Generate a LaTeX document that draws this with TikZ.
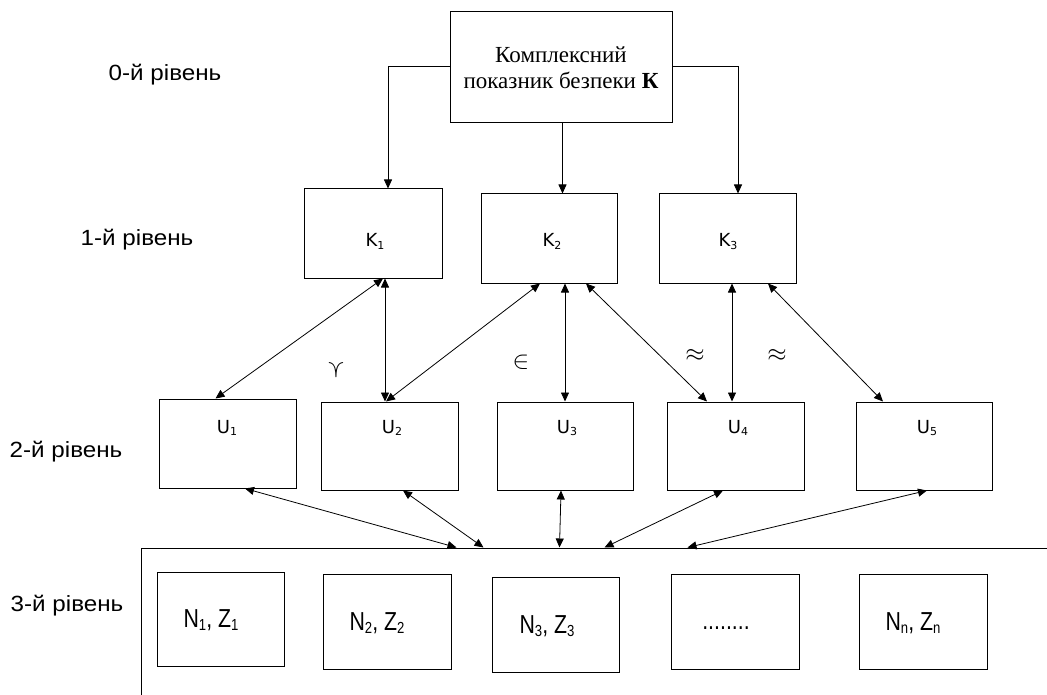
\documentclass[tikz,border=0pt]{standalone}
\usepackage{fontspec}
\setmainfont{Liberation Serif}
\newfontfamily\arialf[FakeStretch=1.1]{Liberation Sans}
\newfontfamily\arialn[FakeStretch=0.82]{Liberation Sans}
\newfontfamily\dvs{DejaVu Sans}
\usetikzlibrary{arrows.meta,calc}
\newcommand\ksub[1]{\raisebox{-2.5pt}{\fontsize{11}{12}\selectfont #1}}
\newcommand\nsub[1]{\raisebox{-3pt}{\fontsize{16}{18}\selectfont #1}}
\tikzset{
  box/.style={draw, line width=1pt, inner sep=0pt, rectangle},
  klab/.style={anchor=base, inner sep=0pt, font=\dvs\fontsize{18}{20}\selectfont},
  nlab/.style={anchor=base, inner sep=0pt, font=\arialn\fontsize{26}{30}\selectfont},
  lvl/.style={anchor=base, inner sep=0pt, font=\arialf\fontsize{22}{26}\selectfont},
  sym/.style={inner sep=0pt, font=\fontsize{24}{28}\selectfont},
  tip/.tip={Triangle[length=9pt,width=8pt]},
  conn/.style={line width=0.8pt, -tip},
  dconn/.style={line width=0.8pt, tip-tip},
}
\begin{document}
\begin{tikzpicture}[x=1pt,y=-1pt]
\useasboundingbox (0,0) rectangle (1047,695);
\clip (0,0) rectangle (1047,695);
\fill[white] (0,0) rectangle (1047,695);

% level labels
\node[lvl] (l0) at (165,81) {0-й рівень};
\node[lvl] (l1) at (137,246) {1-й рівень};
\node[lvl] (l2) at (66,457) {2-й рівень};
\node[lvl] (l3) at (67,611) {3-й рівень};

% level 0
\node[box, minimum width=222pt, minimum height=111pt, align=center,
      font=\fontsize{23}{26}\selectfont] (T) at (561,67.5)
      {Комплексний\\показник безпеки \textbf{К}};

% level 1
\node[box, minimum width=138pt, minimum height=89pt] (K1) at (373,233.5) {};
\node[box, minimum width=136pt, minimum height=89pt] (K2) at (549,238.5) {};
\node[box, minimum width=137pt, minimum height=89pt] (K3) at (727.5,238.5) {};
\node[klab] (K1t) at (375,247) {K\ksub{1}};
\node[klab] (K2t) at (552,247) {K\ksub{2}};
\node[klab] (K3t) at (728,247) {K\ksub{3}};

% level 2
\node[box, minimum width=137pt, minimum height=89pt] (U1) at (227.5,443.5) {};
\node[box, minimum width=137pt, minimum height=88pt] (U2) at (389.5,446) {};
\node[box, minimum width=136pt, minimum height=88pt] (U3) at (565,446) {};
\node[box, minimum width=137pt, minimum height=88pt] (U4) at (735.5,446) {};
\node[box, minimum width=136pt, minimum height=88pt] (U5) at (924,446) {};
\node[klab] (U1t) at (227,433) {U\ksub{1}};
\node[klab] (U2t) at (392,433) {U\ksub{2}};
\node[klab] (U3t) at (567,433) {U\ksub{3}};
\node[klab] (U4t) at (738,433) {U\ksub{4}};
\node[klab] (U5t) at (927,433) {U\ksub{5}};

% level 3 frame
\node[box, minimum width=959pt, minimum height=212pt] (L3) at (620.5,654) {};
\node[box, minimum width=127pt, minimum height=94pt] (N1) at (220.5,619) {};
\node[box, minimum width=128pt, minimum height=95pt] (N2) at (387,621.5) {};
\node[box, minimum width=127pt, minimum height=95pt] (N3) at (555.5,624.5) {};
\node[box, minimum width=128pt, minimum height=95pt] (N4) at (735,621.5) {};
\node[box, minimum width=128pt, minimum height=95pt] (N5) at (923,621.5) {};
\node[nlab] (N1t) at (211,627) {N\nsub{1}, Z\nsub{1}};
\node[nlab] (N2t) at (377,630) {N\nsub{2}, Z\nsub{2}};
\node[nlab] (N3t) at (547,633) {N\nsub{3}, Z\nsub{3}};
\node[nlab] (N4t) at (726,629) {........};
\node[nlab] (N5t) at (913,630) {N\nsub{n}, Z\nsub{n}};

% relation symbols
\node[sym, rotate=-90] (s1) at (336,370) {$\succ$};
\node[sym] (s2) at (521,362) {$\in$};
\node[sym] (s3) at (695,355) {$\approx$};
\node[sym] (s4) at (777,355) {$\approx$};

% level 0 -> level 1
\draw[conn] ([yshift=1.5pt]T.west) -| ([xshift=15pt]K1.north);
\draw[conn] ([yshift=1.5pt]T.east) -| ([xshift=10.5pt]K3.north);
\draw[conn] ([xshift=1.5pt]T.south) -- ([xshift=1.5pt]T.south |- K2.north);

% level 1 <-> level 2
\draw[dconn] ([xshift=10pt]K1.south) -- ([xshift=-12pt]U1.north);
\draw[dconn] ([xshift=12pt]K1.south) -- ([xshift=-4.5pt]U2.north);
\draw[dconn] ([xshift=-9pt]K2.south) -- ([xshift=-3.5pt]U2.north);
\draw[dconn] ([xshift=16pt]K2.south) -- (U3.north);
\draw[dconn] ([xshift=37pt]K2.south) -- ([xshift=-28.5pt]U4.north);
\draw[dconn] ([xshift=4.5pt]K3.south) -- ([xshift=-3.5pt]U4.north);
\draw[dconn] ([xshift=40.5pt]K3.south) -- ([xshift=-41pt]U5.north);

% level 2 <-> level 3
\coordinate (b1) at ($(L3.north west)+(316,0)$);
\coordinate (b2) at ($(L3.north west)+(343,0)$);
\coordinate (b3) at ($(L3.north west)+(419,0)$);
\coordinate (b4) at ($(L3.north west)+(464,0)$);
\coordinate (b5) at ($(L3.north west)+(547,0)$);
\draw[dconn] ([xshift=17.5pt]U1.south) -- (b1);
\draw[dconn] ([xshift=13.5pt]U2.south) -- (b2);
\draw[dconn] ([xshift=-4pt]U3.south) -- (b3);
\draw[dconn] ([xshift=-12.5pt]U4.south) -- (b4);
\draw[dconn] ([xshift=3pt]U5.south) -- (b5);
\end{tikzpicture}
\end{document}
